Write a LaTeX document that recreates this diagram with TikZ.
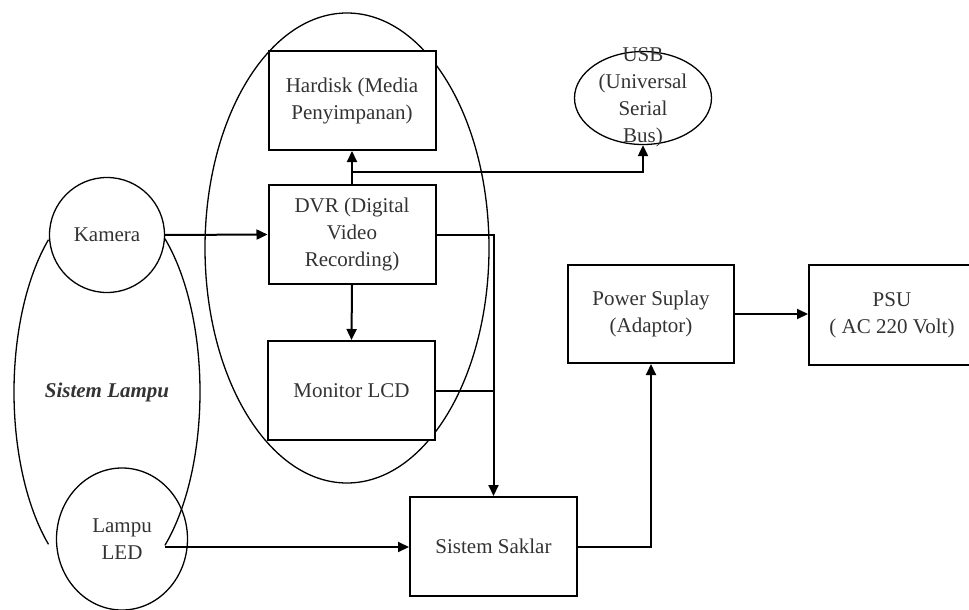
\documentclass[tikz,border=0pt]{standalone}
\usepackage{fontspec}
\setmainfont{Liberation Serif}
\usetikzlibrary{shapes.geometric,arrows.meta,positioning}

\begin{document}
\begin{tikzpicture}[x=1pt,y=-1pt,
  kotak/.style={draw, line width=2pt, fill=white, inner sep=0pt, minimum width=167pt, minimum height=99pt, align=center},
  bulat/.style={draw, line width=1.3pt, inner sep=0pt},
  panah/.style={line width=2pt, -{Triangle[length=11pt,width=10pt]}},
  garis/.style={line width=2pt},
  every node/.style={font=\fontsize{21}{27}\selectfont, text=black!80}]
\useasboundingbox (0,0) rectangle (969,610);

% grup DVR
\node [ellipse, bulat, minimum width=284pt, minimum height=470pt] (grupdvr) at (347,248) {};
\node [kotak] (hardisk) at (352,100.5) {Hardisk (Media\\Penyimpanan)};
\node [kotak] (dvr) at (352,234.5) {DVR (Digital\\Video\\Recording)};
\node [kotak] (monitor) at (351.5,390.5) {Monitor LCD};

\node [ellipse, bulat, minimum width=137pt, minimum height=93pt] (usb) at (643,98) {};
\node [align=center] (usbteks) at (643,97) {USB\\(Universal\\Serial\\Bus)};

% sistem lampu
\node [circle, bulat, minimum size=115pt] (kamera) at (107,235) {Kamera};
\node [ellipse, bulat, minimum width=131pt, minimum height=142pt, align=center] (lampu) at (122,539) {Lampu\\LED};
\node [font=\fontsize{21}{27}\selectfont\bfseries\itshape] (grublampu) at (107,392) {Sistem Lampu};
\draw [line width=1.3pt] ([shift={(129:93 and 196)}]grublampu.center) arc [start angle=129, end angle=231, x radius=93, y radius=196];
\draw [line width=1.3pt] ([shift={(-51.5:93 and 196)}]grublampu.center) arc [start angle=-51.5, end angle=51.5, x radius=93, y radius=196];
\coordinate (lampukeluar) at (165,547);

\node [kotak] (saklar) at (493.5,546.5) {Sistem Saklar};
\node [kotak, minimum width=166pt, minimum height=98pt] (power) at (651,314) {Power Suplay\\(Adaptor)};
\node [kotak, minimum width=166pt, minimum height=100pt] (psu) at (892,315) {PSU\\( AC 220 Volt)};

\coordinate (cabang) at (352,172);
\draw [panah] (kamera.east) -- (dvr.west);
\draw [panah] (dvr.north) -- (hardisk.south);
\draw [panah] (cabang) -| (usb.south);
\draw [panah] (dvr.south) -- (monitor.north);
\draw [panah] (dvr.east) -| (saklar.north);
\draw [garis] (monitor.east) -- (monitor.east -| saklar.north);
\draw [panah] (lampukeluar) -- (lampukeluar -| saklar.west);
\draw [panah] (saklar.east) -| (power.south);
\draw [panah] (power.east) -- (power.east -| psu.west);

\end{tikzpicture}
\end{document}
